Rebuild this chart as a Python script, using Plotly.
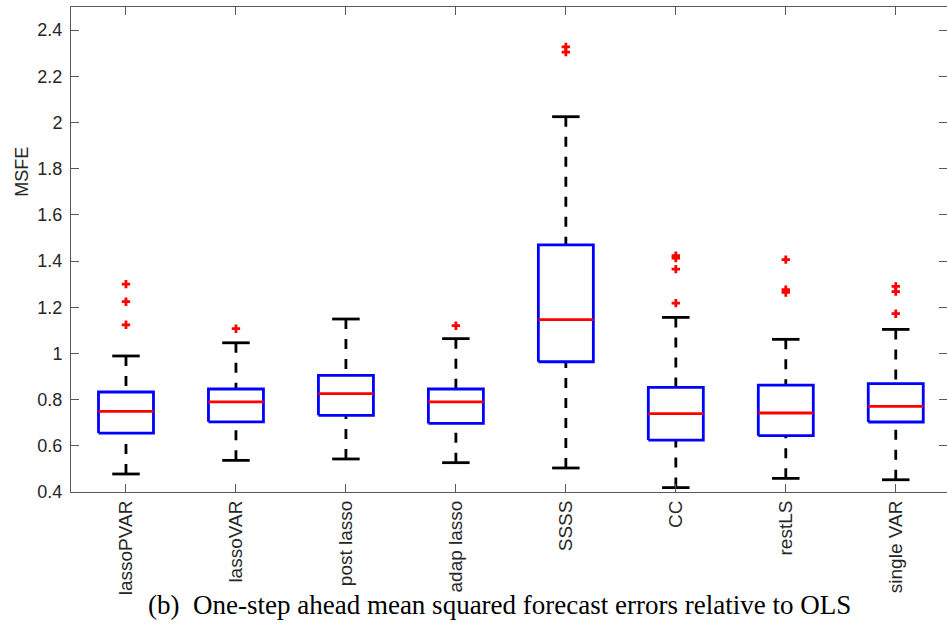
import plotly.graph_objects as go

categories = ["lassoPVAR", "lassoVAR", "post lasso", "adap lasso", "SSSS", "CC", "restLS", "single VAR"]
q1 = [0.655, 0.704, 0.732, 0.697, 0.964, 0.625, 0.644, 0.703]
median = [0.749, 0.790, 0.826, 0.790, 1.146, 0.739, 0.742, 0.771]
q3 = [0.833, 0.846, 0.905, 0.846, 1.470, 0.853, 0.863, 0.869]
lower_whisker = [0.478, 0.537, 0.543, 0.527, 0.504, 0.419, 0.459, 0.453]
upper_whisker = [0.989, 1.046, 1.149, 1.064, 2.025, 1.156, 1.061, 1.104]
outliers = [
    [1.300, 1.224, 1.124],
    [1.107],
    [],
    [1.120],
    [2.327, 2.305],
    [1.423, 1.413, 1.365, 1.218],
    [1.406, 1.276, 1.264],
    [1.290, 1.268, 1.172],
]
y_ticks = [0.4, 0.6, 0.8, 1.0, 1.2, 1.4, 1.6, 1.8, 2.0, 2.2, 2.4]
y_tick_text = ["0.4", "0.6", "0.8", "1", "1.2", "1.4", "1.6", "1.8", "2", "2.2", "2.4"]
caption = "(b)\u00a0\u00a0One-step ahead mean squared forecast errors relative to OLS"

BOX_HALF = 0.25
CAP_HALF = 0.125
LW = 2.8

fig = go.Figure()
for i, cat in enumerate(categories):
    c = i + 1
    for a, b in ((upper_whisker[i], q3[i]), (lower_whisker[i], q1[i])):
        fig.add_trace(go.Scatter(x=[c, c], y=[a, b], mode="lines",
                                 line=dict(color="black", width=LW, dash="10px,10px"),
                                 hoverinfo="skip", showlegend=False))
    for v in (upper_whisker[i], lower_whisker[i]):
        fig.add_trace(go.Scatter(x=[c - CAP_HALF, c + CAP_HALF], y=[v, v], mode="lines",
                                 line=dict(color="black", width=LW),
                                 hoverinfo="skip", showlegend=False))
    fig.add_trace(go.Scatter(
        x=[c - BOX_HALF, c + BOX_HALF, c + BOX_HALF, c - BOX_HALF, c - BOX_HALF],
        y=[q1[i], q1[i], q3[i], q3[i], q1[i]], mode="lines",
        line=dict(color="#0000ff", width=LW),
        hoverinfo="skip", showlegend=False))
    fig.add_trace(go.Scatter(x=[c - BOX_HALF, c + BOX_HALF], y=[median[i], median[i]], mode="lines",
                             line=dict(color="#ff0000", width=LW),
                             hoverinfo="skip", showlegend=False))
    if outliers[i]:
        fig.add_trace(go.Scatter(x=[c] * len(outliers[i]), y=outliers[i], mode="markers",
                                 marker=dict(symbol="cross", size=7, color="#ff0000",
                                             line=dict(width=0)),
                                 hoverinfo="skip", showlegend=False))

fig.add_trace(go.Scatter(x=[1], y=[1], yaxis="y2", mode="markers",
                         marker=dict(opacity=0), hoverinfo="skip", showlegend=False))

axis_color = "#5a5a5a"
sans = "Liberation Sans, Arial, sans-serif"

fig.update_layout(
    width=947, height=631,
    margin=dict(l=71, r=0, t=7, b=139),
    plot_bgcolor="white", paper_bgcolor="white",
    xaxis=dict(
        range=[0.5, 8.466],
        tickmode="array", tickvals=list(range(1, len(categories) + 1)), ticktext=categories,
        tickangle=-90, ticks="inside", ticklen=8, tickcolor=axis_color, tickwidth=1,
        showline=True, linecolor=axis_color, linewidth=1, mirror="ticks",
        showgrid=False, zeroline=False,
        tickfont=dict(family=sans, size=19, color="#262626"),
    ),
    yaxis=dict(
        range=[0.4, 2.5],
        tickmode="array", tickvals=y_ticks, ticktext=y_tick_text,
        ticks="inside", ticklen=8, tickcolor=axis_color, tickwidth=1,
        showline=True, linecolor=axis_color, linewidth=1, mirror=False,
        showgrid=False, zeroline=False,
        tickfont=dict(family=sans, size=18, color="#262626"),
        ticklabelstandoff=4,
    ),
    yaxis2=dict(
        range=[0.4, 2.5], overlaying="y", side="right",
        tickmode="array", tickvals=y_ticks,
        ticks="inside", ticklen=8, tickcolor=axis_color, tickwidth=1,
        showticklabels=False, showline=False, showgrid=False, zeroline=False,
    ),
    annotations=[
        dict(text="MSFE", xref="paper", yref="paper", x=-0.056, y=0.66,
             xanchor="center", yanchor="middle", textangle=-90, showarrow=False,
             font=dict(family=sans, size=18, color="#262626")),
        dict(text=caption, xref="paper", yref="paper", x=0.489, y=-0.234,
             xanchor="center", yanchor="middle", showarrow=False,
             font=dict(family="Liberation Serif, Times New Roman, serif", size=27, color="black")),
    ],
)

fig.write_html("out.html")
